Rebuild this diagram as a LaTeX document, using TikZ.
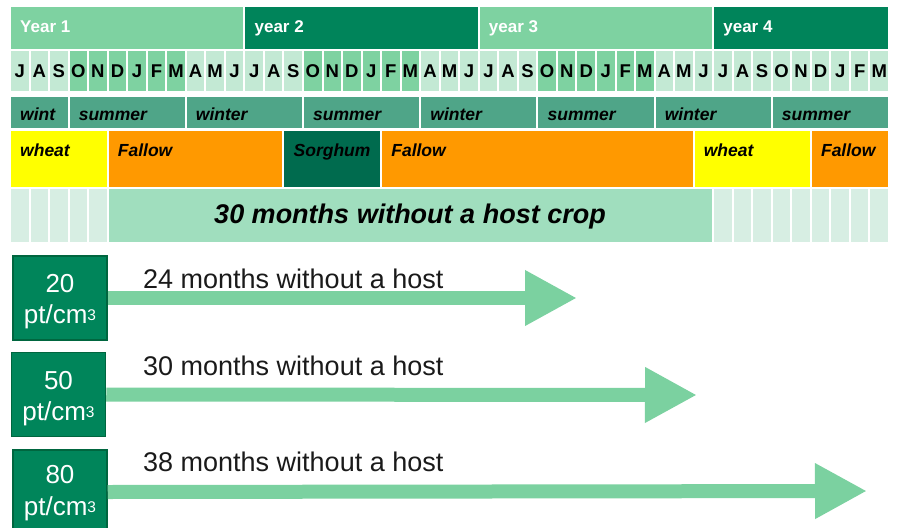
\documentclass[tikz,border=0pt]{standalone}
\usepackage{fontspec}
\setmainfont{Liberation Sans}
\usetikzlibrary{arrows.meta}
\definecolor{yearlight}{HTML}{7ED2A1}
\definecolor{yeardark}{HTML}{00845A}
\definecolor{monthlight}{HTML}{C3E9D4}
\definecolor{monthmed}{HTML}{7ED2A1}
\definecolor{seasoncol}{HTML}{4FA588}
\definecolor{wheatcol}{HTML}{FFFF00}
\definecolor{fallowcol}{HTML}{FF9900}
\definecolor{sorghumcol}{HTML}{006B4E}
\definecolor{restlight}{HTML}{D7EEE3}
\definecolor{hostfree}{HTML}{A0DEBE}
\definecolor{boxfill}{HTML}{00855A}
\definecolor{boxline}{HTML}{00663F}
\definecolor{arrowcol}{HTML}{7BD1A0}
\definecolor{labeltext}{HTML}{1A1A1A}
\begin{document}
\begin{tikzpicture}[x=1pt,y=-1pt,
  cellbox/.style={draw=white,line width=2pt},
  yeartxt/.style={text=white,font=\fontsize{17}{20}\selectfont\bfseries,inner sep=0pt,anchor=base west},
  monthtxt/.style={text=black,font=\fontsize{18.5}{20}\selectfont\bfseries,inner sep=0pt,anchor=base},
  seasontxt/.style={text=black,font=\fontsize{17.5}{20}\selectfont\bfseries\itshape,inner sep=0pt,anchor=base west},
  croptxt/.style={text=black,font=\fontsize{17.5}{20}\selectfont\bfseries\itshape,inner sep=0pt,anchor=base west},
  bigtxt/.style={text=black,font=\fontsize{27}{30}\selectfont\bfseries\itshape,inner sep=0pt,anchor=base},
  densbox/.style={draw=boxline,fill=boxfill,line width=1.5pt,minimum width=94pt,minimum height=84pt,inner sep=0pt},
  denstxt/.style={text=white,font=\fontsize{26}{28}\selectfont,inner sep=0pt,anchor=base},
  hostarrow/.style={draw=arrowcol,line width=14pt,-{Triangle[width=52pt,length=52pt,fill=arrowcol]}},
  arrowlabel/.style={text=labeltext,font=\fontsize{27}{30}\selectfont,inner sep=0pt,anchor=base west}
]
\useasboundingbox (0,0) rectangle (898,528);
\def\cw{19.533}
\def\xo{10}
% years
\foreach \nm/\a/\b/\col/\txt in {ya/0/12/yearlight/Year 1,yb/12/24/yeardark/year 2,yc/24/36/yearlight/year 3,yd/36/45/yeardark/year 4}{
  \path[cellbox,fill=\col] (\xo+\a*\cw,6) rectangle (\xo+\b*\cw,50);
  \node[yeartxt] (\nm) at (\xo+\a*\cw+10,32) {\txt};
}
% months
\foreach \m [count=\i from 0] in {J,A,S,O,N,D,J,F,M,A,M,J,J,A,S,O,N,D,J,F,M,A,M,J,J,A,S,O,N,D,J,F,M,A,M,J,J,A,S,O,N,D,J,F,M}{
  \pgfmathtruncatemacro\r{mod(\i,12)}
  \pgfmathtruncatemacro\med{and(and(\r>2,\r<9),\i<36)}
  \ifnum\med=1 \def\col{monthmed}\else\def\col{monthlight}\fi
  \path[cellbox,fill=\col] (\xo+\i*\cw,50) rectangle (\xo+\i*\cw+\cw,92);
  \node[monthtxt] (m\i) at (\xo+\i*\cw+0.5*\cw,77) {\m};
}
% seasons
\foreach \nm/\a/\b/\txt in {sa/0/3/wint,sb/3/9/summer,sc/9/15/winter,sd/15/21/summer,se/21/27/winter,sf/27/33/summer,sg/33/39/winter,sh/39/45/summer}{
  \path[cellbox,fill=seasoncol] (\xo+\a*\cw,96) rectangle (\xo+\b*\cw,129);
  \node[seasontxt] (\nm) at (\xo+\a*\cw+10,120) {\txt};
}
% crops
\foreach \nm/\a/\b/\col/\txt in {ca/0/5/wheatcol/wheat,cb/5/14/fallowcol/Fallow,cc/14/19/sorghumcol/Sorghum,cd/19/35/fallowcol/Fallow,ce/35/41/wheatcol/wheat,cf/41/45/fallowcol/Fallow}{
  \path[cellbox,fill=\col] (\xo+\a*\cw,130) rectangle (\xo+\b*\cw,188);
  \node[croptxt] (\nm) at (\xo+\a*\cw+10,156) {\txt};
}
% host-free row
\foreach \i in {0,...,4,36,37,...,44}{
  \path[cellbox,fill=restlight] (\xo+\i*\cw,188) rectangle (\xo+\i*\cw+\cw,243);
}
\path[cellbox,fill=hostfree] (\xo+5*\cw,188) rectangle (\xo+36*\cw,243);
\node[bigtxt] (hostfreetxt) at (410,223) {30 months without a host crop};
% density boxes
\node[densbox] (d1) at (60,298) {};
\node[densbox] (d2) at (58.5,394.5) {};
\node[densbox] (d3) at (60,492) {};
\newcommand\ptcm{pt/cm\raisebox{3pt}{\fontsize{15.5}{15}\selectfont 3}}
\node[denstxt] (d1a) at (60,292) {20};
\node[denstxt] (d1b) at (60,323) {\ptcm};
\node[denstxt] (d2a) at (58.5,389) {50};
\node[denstxt] (d2b) at (58.5,420) {\ptcm};
\node[denstxt] (d3a) at (60,483) {80};
\node[denstxt] (d3b) at (60,515) {\ptcm};
% arrows
\coordinate (t1) at (577,298);
\coordinate (t2) at (697,395);
\coordinate (t3) at (867,491);
\draw[hostarrow] (d1.east) -- (t1);
\draw[hostarrow] (d2.east) -- (t2);
\draw[hostarrow] (d3.east) -- (t3);
\node[arrowlabel] (l1) at (143,288) {24 months without a host};
\node[arrowlabel] (l2) at (143,375) {30 months without a host};
\node[arrowlabel] (l3) at (143,471) {38 months without a host};
\end{tikzpicture}
\end{document}
